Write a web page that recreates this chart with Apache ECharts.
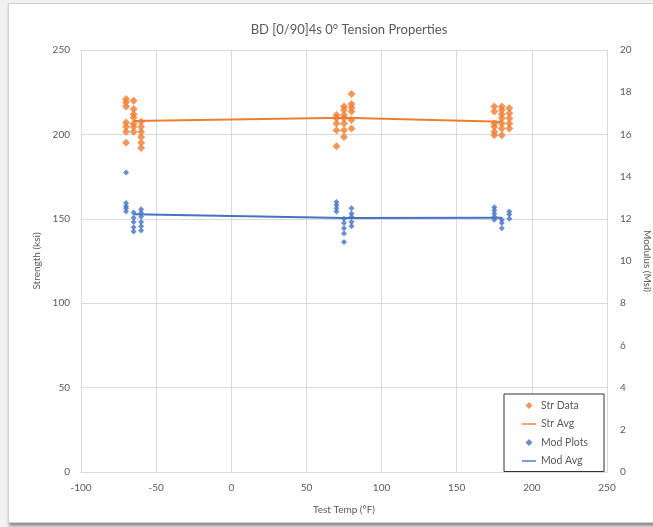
<!DOCTYPE html>
<html>
<head>
<meta charset="utf-8">
<script src="https://cdn.jsdelivr.net/npm/echarts@6/dist/echarts.min.js"></script>
<style>
  html, body { margin: 0; padding: 0; background: #f2f2f2; }
  #frame { position: absolute; left: 8px; top: 3px; width: 648px; height: 518px;
           background: #ffffff; border: 1px solid #d0d0d0; box-shadow: 1px 3px 3px #8a8a8a; }
  #chart { position: absolute; left: 0; top: 0; width: 653px; height: 527px; }
</style>
</head>
<body>
<div id="frame"></div>
<div id="chart"></div>
<script>
// Test temperatures (°F) for each column of specimens
const strTemps = [-70, -65, -60, 70, 75, 80, 175, 180, 185];
// Strength (ksi) per temperature column
const strVals = [
  [221, 219, 216.5, 207, 204.5, 201.5, 195],
  [220, 215, 212, 210, 206.5, 204.5, 201.5],
  [207.5, 204.5, 201.5, 198.5, 195, 192],
  [211.5, 209.5, 206.5, 202.5, 193],
  [216.5, 214.5, 211.5, 209.5, 206.5, 202.5, 198.5],
  [224, 218, 216, 213.5, 208.5, 203.5],
  [216.5, 213.5, 206.5, 204.5, 201.5, 199.5],
  [216.5, 214.5, 212, 209.5, 206.5, 203.5, 199.5],
  [215.5, 212.5, 209.5, 206.5, 203.5]
];
// Modulus (Msi) per temperature column
const modTemps = [-70, -65, -60, 70, 75, 80, 175, 180, 185];
const modVals = [
  [14.2, 12.75, 12.6, 12.5, 12.35],
  [12.3, 12.05, 11.85, 11.6, 11.4],
  [12.45, 12.3, 12.1, 11.85, 11.65, 11.45],
  [12.8, 12.65, 12.5, 12.35],
  [12.0, 11.8, 11.55, 11.3, 10.9],
  [12.5, 12.25, 12.1, 11.85, 11.65],
  [12.55, 12.4, 12.25, 12.1, 11.95],
  [11.95, 11.8, 11.55],
  [12.35, 12.2, 12.0]
];
// Averages
const avgTemps = [-65, 75, 180];
const strAvg = [208, 209.8, 207.5];
const modAvg = [12.22, 12.04, 12.05];

const title = 'BD [0/90]4s 0° Tension Properties';
const xName = 'Test Temp (°F)';
const yLeftName = 'Strength (ksi)';
const yRightName = 'Modulus (Msi)';

const strData = [];
strTemps.forEach((t, i) => strVals[i].forEach(v => strData.push([t, v])));
const modData = [];
modTemps.forEach((t, i) => modVals[i].forEach(v => modData.push([t, v])));

const FONT = 'Lato, "Open Sans", sans-serif';
const TXT = '#595959';
const GRID = '#d9d9d9';
const ORANGE = '#ED7D31';
const BLUE = '#4472C4';
const LINE_ICON = 'path://M0,0 L20,0 L20,2 L0,2 Z';
const DIAMOND_ICON = 'path://M5,0 L10,5 L5,10 L0,5 Z';

const chart = echarts.init(document.getElementById('chart'), null, { renderer: 'canvas' });
chart.setOption({
  backgroundColor: 'transparent',
  animation: false,
  textStyle: { fontFamily: FONT },
  title: {
    text: title, left: 344, top: 18, textAlign: 'center',
    textStyle: { fontFamily: FONT, fontSize: 13, fontWeight: 'normal', color: TXT }
  },
  grid: { left: 81, right: 46, top: 50, bottom: 55, containLabel: false, outerBoundsMode: 'none' },
  xAxis: {
    type: 'value', min: -100, max: 250, interval: 50,
    name: xName, nameLocation: 'middle', nameGap: 33,
    nameTextStyle: { fontFamily: FONT, fontSize: 10, color: TXT },
    axisLine: { show: true, lineStyle: { color: GRID, width: 1 } },
    axisTick: { show: false },
    axisLabel: { color: TXT, fontFamily: FONT, fontSize: 10, margin: 11 },
    splitLine: { show: true, lineStyle: { color: GRID, width: 1 } }
  },
  yAxis: [
    {
      type: 'value', min: 0, max: 250, interval: 50, position: 'left',
      name: yLeftName, nameLocation: 'middle', nameGap: 39,
      nameTextStyle: { fontFamily: FONT, fontSize: 10, color: TXT },
      axisLine: { show: false }, axisTick: { show: false },
      axisLabel: { color: TXT, fontFamily: FONT, fontSize: 10, margin: 11 },
      splitLine: { show: true, lineStyle: { color: GRID, width: 1 } }
    },
    {
      type: 'value', min: 0, max: 20, interval: 2, position: 'right',
      name: yRightName, nameLocation: 'middle', nameGap: 30, nameRotate: -90,
      nameTextStyle: { fontFamily: FONT, fontSize: 10, color: TXT },
      axisLine: { show: false }, axisTick: { show: false },
      axisLabel: { color: TXT, fontFamily: FONT, fontSize: 10, margin: 13 },
      splitLine: { show: false }
    }
  ],
  legend: {
    orient: 'vertical', left: 504, top: 394,
    padding: [6, 16, 5, 18],
    itemGap: 7.5, itemWidth: 14, itemHeight: 7,
    symbolKeepAspect: true,
    borderColor: '#333', borderWidth: 1, backgroundColor: '#fff',
    textStyle: { fontFamily: FONT, fontSize: 10.5, color: TXT },
    data: [
      { name: 'Str Data', icon: DIAMOND_ICON },
      { name: 'Str Avg', icon: LINE_ICON },
      { name: 'Mod Plots', icon: DIAMOND_ICON },
      { name: 'Mod Avg', icon: LINE_ICON }
    ]
  },
  series: [
    {
      name: 'Str Data', type: 'scatter', yAxisIndex: 0, data: strData,
      symbol: 'diamond', symbolSize: 8, itemStyle: { color: ORANGE }, z: 3
    },
    {
      name: 'Str Avg', type: 'line', yAxisIndex: 0,
      data: avgTemps.map((t, i) => [t, strAvg[i]]),
      symbol: 'none', showSymbol: false,
      lineStyle: { color: ORANGE, width: 2 }, itemStyle: { color: ORANGE }, z: 2
    },
    {
      name: 'Mod Plots', type: 'scatter', yAxisIndex: 1, data: modData,
      symbol: 'diamond', symbolSize: 6, itemStyle: { color: BLUE }, z: 3
    },
    {
      name: 'Mod Avg', type: 'line', yAxisIndex: 1,
      data: avgTemps.map((t, i) => [t, modAvg[i]]),
      symbol: 'none', showSymbol: false,
      lineStyle: { color: BLUE, width: 2 }, itemStyle: { color: BLUE }, z: 2
    }
  ]
});
</script>
</body>
</html>
